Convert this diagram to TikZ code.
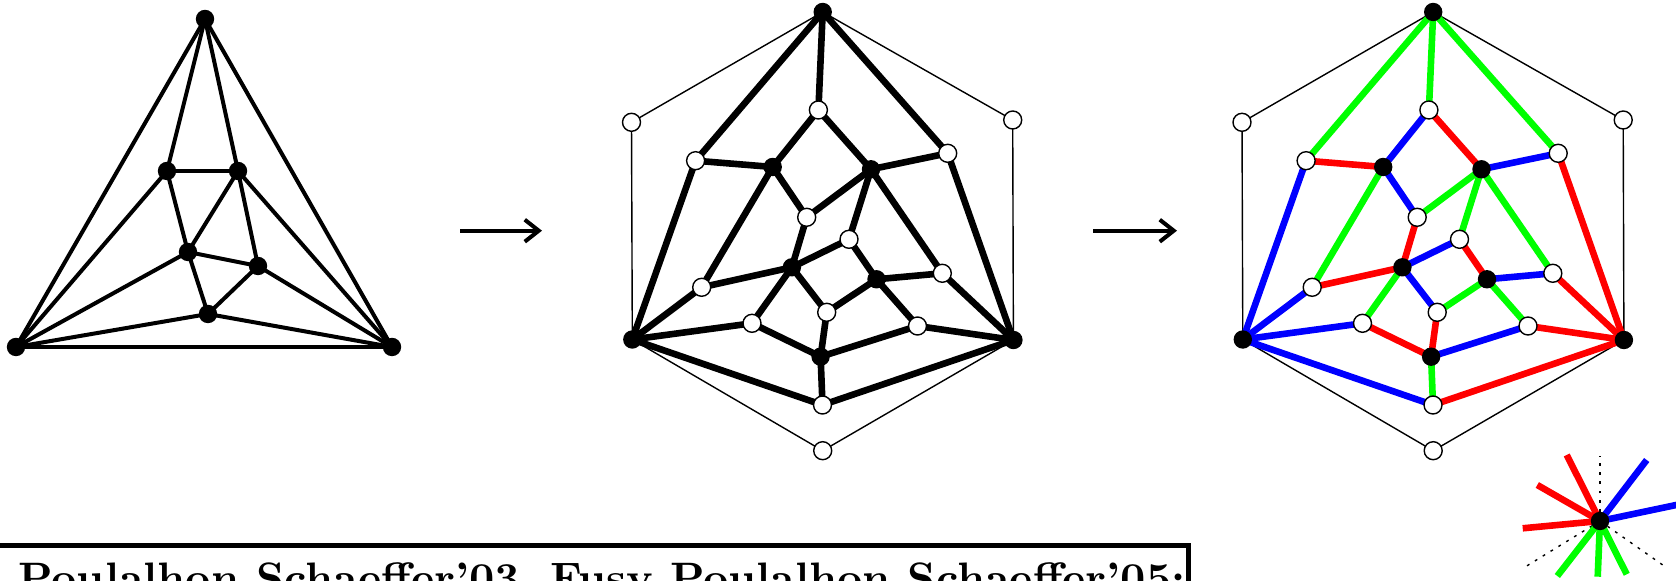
\documentclass[tikz,border=0pt]{standalone}
\usetikzlibrary{arrows.meta}
\pgfdeclarelayer{background}
\pgfsetlayers{background,main}
\tikzset{
  bv/.style={circle,fill=black,inner sep=0pt,minimum size=9.2pt},
  bvs/.style={circle,fill=black,inner sep=0pt,minimum size=9.2pt},
  wv/.style={circle,draw=black,line width=0.7pt,fill=white,inner sep=0pt,minimum size=9pt},
  eone/.style={line width=2pt},
  ethick/.style={line width=3.3pt},
  ehex/.style={line width=0.7pt},
  cg/.style={ethick,draw=green},
  cb/.style={ethick,draw=blue},
  cr/.style={ethick,draw=red},
  dotl/.style={line width=0.7pt,dash pattern=on 1.4pt off 3.2pt},
  arr/.style={line width=2pt,-{Straight Barb[length=7pt,width=11pt,line width=2pt]}},
}
\newcommand\placeG[1]{%
  \node[bv] (#1T) at (822.7,12) {};
  \node[bv] (#1L) at (632.3,339.5) {};
  \node[bv] (#1R) at (1013.4,340) {};
  \node[wv] (#1hl) at (631.5,122.3) {};
  \node[wv] (#1hr) at (1012.7,120) {};
  \node[wv] (#1hb) at (822.7,450.7) {};
  \node[wv] (#1w1) at (818.4,110) {};
  \node[wv] (#1w2) at (695.6,160.7) {};
  \node[wv] (#1w3) at (947.7,153.3) {};
  \node[wv] (#1w4) at (806.7,217.3) {};
  \node[wv] (#1w5) at (849,239.3) {};
  \node[wv] (#1w6) at (942.3,273.3) {};
  \node[wv] (#1w7) at (701.7,287.3) {};
  \node[wv] (#1w8) at (826.7,312.3) {};
  \node[wv] (#1w9) at (752,323.3) {};
  \node[wv] (#1w10) at (917.5,326) {};
  \node[wv] (#1w11) at (822.5,405) {};
  \node[bv] (#1b1) at (772.7,167) {};
  \node[bv] (#1b2) at (871,169.3) {};
  \node[bv] (#1b3) at (791.9,267.3) {};
  \node[bv] (#1b4) at (876.5,279.3) {};
  \node[bv] (#1b5) at (820.6,356.7) {};
  \begin{pgfonlayer}{background}
    \draw[ehex] (#1T.center) -- (#1hl.center) -- (#1L.center) -- (#1hb.center)
      -- (#1R.center) -- (#1hr.center) -- (#1T.center);
  \end{pgfonlayer}
}
\begin{document}
\begin{tikzpicture}[x=0.5pt,y=-0.5pt]
\useasboundingbox (0,0) rectangle (1676,581);

% ---------- graph 1 ----------
\node[bv] (gT) at (205,19) {};
\node[bv] (gL) at (16,347) {};
\node[bv] (gR) at (392,347) {};
\node[bv] (ga) at (167,171) {};
\node[bv] (gb) at (238,171) {};
\node[bv] (gc) at (188,252) {};
\node[bv] (gd) at (258,266) {};
\node[bv] (ge) at (208,314) {};
\begin{pgfonlayer}{background}
\draw[eone] (gT.center) -- (gL.center);
\draw[eone] (gT.center) -- (gR.center);
\draw[eone] (gT.center) -- (ga.center);
\draw[eone] (gT.center) -- (gb.center);
\draw[eone] (ga.center) -- (gb.center);
\draw[eone] (ga.center) -- (gL.center);
\draw[eone] (ga.center) -- (gc.center);
\draw[eone] (gb.center) -- (gc.center);
\draw[eone] (gb.center) -- (gd.center);
\draw[eone] (gb.center) -- (gR.center);
\draw[eone] (gc.center) -- (gd.center);
\draw[eone] (gc.center) -- (gL.center);
\draw[eone] (gc.center) -- (ge.center);
\draw[eone] (gd.center) -- (ge.center);
\draw[eone] (gd.center) -- (gR.center);
\draw[eone] (ge.center) -- (gL.center);
\draw[eone] (ge.center) -- (gR.center);
\draw[eone] (gL.center) -- (gR.center);
\end{pgfonlayer}

% ---------- arrows ----------
\coordinate (a1s) at (460,230.7);
\coordinate (a1e) at (542,230.7);
\coordinate (a2s) at (1093,230.7);
\coordinate (a2e) at (1177,230.7);
\draw[arr] (a1s) -- (a1e);
\draw[arr] (a2s) -- (a2e);

% ---------- graph 2 ----------
\begin{scope}
\placeG{m}
\end{scope}
\begin{pgfonlayer}{background}
\foreach \u/\v in {T/w1,b1/w1,b2/w1, T/w2,L/w2,b1/w2, T/w3,b2/w3,R/w3,
  b1/w4,b2/w4,b3/w4, b2/w5,b3/w5,b4/w5, b2/w6,b4/w6,R/w6, b1/w7,b3/w7,L/w7,
  b3/w8,b4/w8,b5/w8, b3/w9,b5/w9,L/w9, b4/w10,b5/w10,R/w10, L/w11,b5/w11,R/w11}
  \draw[ethick] (m\u.center) -- (m\v.center);
\end{pgfonlayer}

% ---------- graph 3 ----------
\begin{scope}[xshift=305.25pt]
\placeG{r}
\end{scope}
\begin{pgfonlayer}{background}
\foreach \u/\v/\c in {T/w1/cg,b1/w1/cb,b2/w1/cr, T/w2/cg,L/w2/cb,b1/w2/cr,
  T/w3/cg,b2/w3/cb,R/w3/cr, b1/w4/cb,b2/w4/cg,b3/w4/cr, b2/w5/cg,b3/w5/cb,b4/w5/cr,
  b2/w6/cg,b4/w6/cb,R/w6/cr, b1/w7/cg,b3/w7/cr,L/w7/cb, b3/w8/cb,b4/w8/cg,b5/w8/cr,
  b3/w9/cg,b5/w9/cr,L/w9/cb, b4/w10/cg,b5/w10/cb,R/w10/cr, L/w11/cb,b5/w11/cg,R/w11/cr}
  \draw[\c] (r\u.center) -- (r\v.center);
\end{pgfonlayer}

% ---------- star ----------
\node[bvs] (s) at (1600,521) {};
\coordinate (sd1) at (1600,456);
\coordinate (sd2) at (1525,567);
\coordinate (sd3) at (1667,568);
\coordinate (sr1) at (1566.7,455);
\coordinate (sr2) at (1537.3,485);
\coordinate (sr3) at (1522.7,528.3);
\coordinate (sb1) at (1646.7,460);
\coordinate (sb2) at (1700,500);
\coordinate (sg1) at (1557.3,576);
\coordinate (sg2) at (1597.7,576.7);
\coordinate (sg3) at (1626.7,574.3);
\begin{pgfonlayer}{background}
\draw[dotl] (s.center) -- (sd1);
\draw[dotl] (s.center) -- (sd2);
\draw[dotl] (s.center) -- (sd3);
\draw[cr] (s.center) -- (sr1);
\draw[cr] (s.center) -- (sr2);
\draw[cr] (s.center) -- (sr3);
\draw[cb] (s.center) -- (sb1);
\draw[cb] (s.center) -- (sb2);
\draw[cg] (s.center) -- (sg1);
\draw[cg] (s.center) -- (sg2);
\draw[cg] (s.center) -- (sg3);
\end{pgfonlayer}

% ---------- text box ----------
\draw[line width=2.8pt] (-20,545.7) -- (1188.5,545.7) -- (1188.5,660);
\node[anchor=north west,inner sep=0pt] (txt) at (18,562.3)
  {\resizebox{583.5pt}{!}{\bfseries Poulalhon Schaeffer'03, Fusy Poulalhon Schaeffer'05:}};
\end{tikzpicture}
\end{document}
